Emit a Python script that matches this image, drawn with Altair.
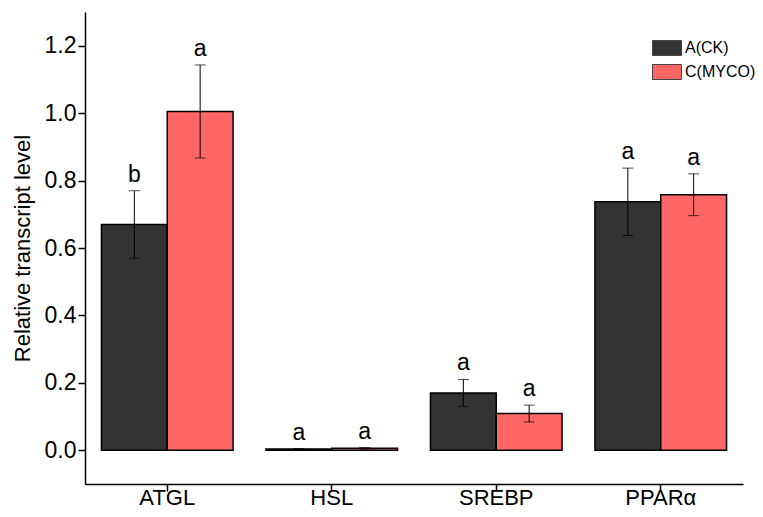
import altair as alt
import pandas as pd

genes = ["ATGL", "HSL", "SREBP", "PPARα"]
groups = ["A(CK)", "C(MYCO)"]
a_mean = [0.670, 0.004, 0.170, 0.737]
a_err = [0.100, 0.000, 0.040, 0.100]
c_mean = [1.005, 0.006, 0.109, 0.758]
c_err = [0.138, 0.002, 0.025, 0.062]
a_letters = ["b", "a", "a", "a"]
c_letters = ["a", "a", "a", "a"]
y_ticks = [round(i * 0.1, 1) for i in range(13)]

rows = []
for g, m, e, l in [(groups[0], a_mean, a_err, a_letters), (groups[1], c_mean, c_err, c_letters)]:
    for i, gene in enumerate(genes):
        rows.append({"gene": gene, "group": g, "mean": m[i],
                     "lo": m[i] - e[i], "hi": m[i] + e[i], "letter": l[i]})
df = pd.DataFrame(rows)

FONT = "Liberation Sans"

x = alt.X("gene:N", sort=genes, title=None,
          scale=alt.Scale(paddingInner=0.2, paddingOuter=0.1),
          axis=alt.Axis(labelAngle=0, labelFontSize=22, labelFont=FONT, labelColor="black",
                        tickSize=7, tickWidth=1.5, tickColor="black",
                        domainColor="black", domainWidth=1.5, labelPadding=-4, grid=False))
xo = alt.XOffset("group:N", sort=groups, scale=alt.Scale(paddingInner=0, paddingOuter=0))
yscale = alt.Scale(domain=[-0.1, 1.3], nice=False, zero=False)

color = alt.Color("group:N", sort=groups,
                  scale=alt.Scale(domain=groups, range=["#333333", "#FF6666"]),
                  legend=alt.Legend(title=None, orient="none", legendX=574, legendY=28,
                                    labelFont=FONT, labelFontSize=16, labelColor="black",
                                    symbolType="M-1.93,-1H1.93V1H-1.93Z", symbolSize=225,
                                    symbolStrokeColor="#444444", symbolStrokeWidth=1,
                                    labelOffset=10, rowPadding=4, padding=0))

bars = alt.Chart(df).mark_bar(stroke="black", strokeWidth=1.5).encode(
    x=x, xOffset=xo,
    y=alt.Y("mean:Q", scale=yscale, title="Relative transcript level",
            axis=alt.Axis(values=y_ticks, grid=False,
                          labelExpr="round(datum.value*10) % 2 == 0 ? format(datum.value, '.1f') : ''",
                          tickSize={"condition": {"test": "round(datum.value*10) % 2 == 0", "value": 7}, "value": 4},
                          labelFontSize=23, labelFont=FONT, labelColor="black",
                          titleFontSize=22, titleFont=FONT, titleFontWeight="normal", titleColor="black",
                          titlePadding=10, labelPadding=2,
                          tickWidth=1.5, tickColor="black", domainColor="black", domainWidth=1.5)),
    y2=alt.Y2(datum=0),
    color=color,
)

rules = alt.Chart(df).mark_rule(color="black", strokeWidth=1).encode(
    x=x, xOffset=xo, y=alt.Y("lo:Q", scale=yscale), y2="hi:Q")

caps_hi = alt.Chart(df).mark_tick(color="black", thickness=1, size=11).encode(
    x=x, xOffset=xo, y=alt.Y("hi:Q", scale=yscale))
caps_lo = alt.Chart(df).mark_tick(color="black", thickness=1, size=11).encode(
    x=x, xOffset=xo, y=alt.Y("lo:Q", scale=yscale))

letters = alt.Chart(df).mark_text(font=FONT, fontSize=23, color="black",
                                  baseline="alphabetic", dy=-9).encode(
    x=x, xOffset=xo, y=alt.Y("hi:Q", scale=yscale), text="letter:N")

chart = alt.layer(bars, rules, caps_hi, caps_lo, letters).properties(
    width=658, height=472,
    autosize=alt.AutoSizeParams(type="none"),
    padding={"left": 77, "top": 4, "right": 12, "bottom": 25},
).configure(background="white").configure_view(stroke=None)

chart.save("out.html", embed_options={"renderer": "svg", "actions": False})
